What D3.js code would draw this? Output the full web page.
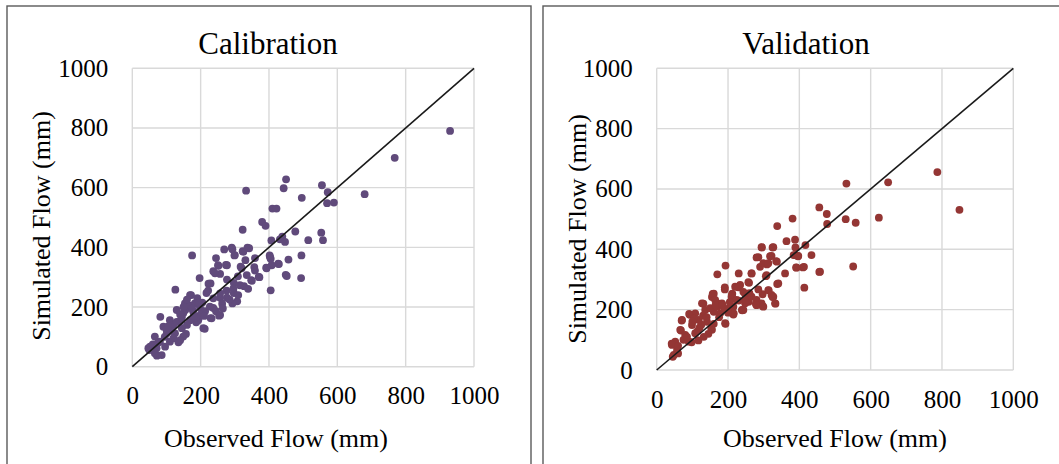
<!DOCTYPE html>
<html>
<head>
<meta charset="utf-8">
<script src="https://cdn.jsdelivr.net/npm/d3@7"></script>
<style>
  html, body { margin: 0; padding: 0; background: #ffffff; }
  svg { display: block; }
  text { font-family: "Liberation Serif", "Times New Roman", serif; fill: #000; }
</style>
</head>
<body>
<svg id="chart" width="1059" height="464"></svg>
<script>
// ---------------- DATA ----------------
const axisTicks = [0, 200, 400, 600, 800, 1000];
const tickLabels = ["0", "200", "400", "600", "800", "1000"];
const panelTitles = ["Calibration", "Validation"];
const xAxisTitle = "Observed Flow (mm)";
const yAxisTitle = "Simulated Flow (mm)";

const calibObserved = [930,768,680,555,572,570,590,450,443,496,333,410,422,380,390,323,477,553,558,515,407,439,447,432,337,323,269,291,299,245,175,359,331,402,405,495,457,427,408,392,357,277,251,317,370,348,327,339,405,449,494,197,237,257,277,297,309,223,126,169,217,257,277,297,307,293,263,237,254,229,212,187,157,135,82,47,72,229,242,172,222,237,276,154,183,130,149,164,178,198,213,227,245,257,110,138,169,193,208,232,91,120,145,101,125,149,66,81,110,140,52,71,96,86,66,50,293,300,325,342,252,274,403,429,359,393,320,335,372,350,452,315,296,257,285,265,200,185,160,115,95,130,155,205,190,310,145,120,75,100,170,160,180,195,140,210,175,150,105,60];
const calibSimulated = [790,700,578,608,585,548,550,628,598,566,590,530,530,485,472,459,453,449,424,424,423,436,418,427,399,387,393,399,373,364,373,364,357,373,362,373,359,345,340,332,334,340,340,335,301,290,270,261,256,308,297,297,320,311,292,281,303,278,258,240,247,231,231,247,219,212,211,197,171,163,127,149,110,82,167,62,37,279,313,240,255,229,255,212,212,190,179,200,186,198,186,201,186,173,156,151,156,156,129,162,134,140,129,112,112,101,101,84,84,89,67,62,67,39,45,56,394,374,385,397,338,341,368,344,322,330,330,307,300,288,304,273,262,246,225,195,175,165,140,120,100,150,190,215,230,240,165,95,80,125,205,225,170,215,175,170,195,200,135,75];

const validObserved = [787,849,649,532,623,530,558,456,477,478,551,456,414,381,338,364,388,417,389,434,396,384,391,410,360,338,335,325,318,295,280,290,309,306,266,230,193,170,259,230,212,191,160,155,314,325,333,297,278,297,240,215,193,174,131,93,70,68,42,45,60,117,98,153,160,191,157,164,220,234,211,248,258,127,136,108,183,202,216,178,160,239,248,91,71,118,141,99,192,66,80,108,132,155,90,52,43,57,48,294,327,285,322,299,313,337,388,397,392,413,458,266,308,341,257,229,243,285,313,322,327,210,224,248,266,280,294,280,299,332,243,215,120,105,145,175,200,230,260,75,85,130,150,170,190,115,140,165,185,100,125,205,60];
const validSimulated = [656,531,622,618,505,500,488,539,517,484,343,325,273,502,477,427,432,414,406,381,377,381,340,340,320,285,361,406,377,406,373,342,350,311,320,320,346,317,289,275,253,267,253,242,264,242,220,212,220,251,198,184,153,220,220,183,164,131,87,44,55,98,92,137,153,274,252,232,276,282,249,252,226,221,199,188,221,204,188,188,193,199,221,186,166,166,160,149,155,133,116,122,110,133,94,94,83,66,50,407,407,374,378,354,354,359,381,378,339,342,326,320,314,287,291,274,259,267,265,249,243,243,232,232,243,232,221,215,210,221,199,210,140,170,120,175,190,230,255,100,110,180,205,210,200,130,175,215,215,160,150,225,80];

// ---------------- LAYOUT ----------------
const panels = [
  { title: panelTitles[0], xs: calibObserved, ys: calibSimulated, color: "#604A7B",
    x0: 132.3, x1: 474, y0: 366.7, y1: 68.3,
    frame: [7, 6, 524, 470], titleX: 268, xTitleX: 276, yTitleX: 50, yTitleY: 226 },
  { title: panelTitles[1], xs: validObserved, ys: validSimulated, color: "#943634",
    x0: 656.7, x1: 1013.3, y0: 370, y1: 68.3,
    frame: [543, 6, 530, 470], titleX: 806, xTitleX: 835, yTitleX: 586, yTitleY: 229 }
];

const svg = d3.select("#chart");

panels.forEach(p => {
  const g = svg.append("g");
  const x = d3.scaleLinear().domain([0, 1000]).range([p.x0, p.x1]);
  const y = d3.scaleLinear().domain([0, 1000]).range([p.y0, p.y1]);

  // frame
  g.append("rect")
    .attr("x", p.frame[0]).attr("y", p.frame[1])
    .attr("width", p.frame[2]).attr("height", p.frame[3])
    .attr("fill", "none").attr("stroke", "#5a5a5a").attr("stroke-width", 1.4);

  // gridlines
  g.selectAll(".vg").data(axisTicks).enter().append("line")
    .attr("x1", d => x(d)).attr("x2", d => x(d))
    .attr("y1", y(0)).attr("y2", y(1000))
    .attr("stroke", "#d9d9d9").attr("stroke-width", 1.4);
  g.selectAll(".hg").data(axisTicks).enter().append("line")
    .attr("y1", d => y(d)).attr("y2", d => y(d))
    .attr("x1", x(0)).attr("x2", x(1000))
    .attr("stroke", "#d9d9d9").attr("stroke-width", 1.4);

  // axes (labels only)
  const xAxis = d3.axisBottom(x).tickValues(axisTicks)
    .tickFormat((d, i) => tickLabels[i]).tickSize(0).tickPadding(20);
  const gx = g.append("g").attr("transform", `translate(0,${p.y0})`).call(xAxis);
  gx.select(".domain").remove();
  gx.selectAll("text").attr("font-size", 25).attr("font-family", "Liberation Serif, Times New Roman, serif").attr("fill", "#000");

  const yAxis = d3.axisLeft(y).tickValues(axisTicks)
    .tickFormat((d, i) => tickLabels[i]).tickSize(0).tickPadding(24);
  const gy = g.append("g").attr("transform", `translate(${p.x0},0)`).call(yAxis);
  gy.select(".domain").remove();
  gy.selectAll("text").attr("font-size", 25).attr("font-family", "Liberation Serif, Times New Roman, serif").attr("fill", "#000");

  // points
  const pts = p.xs.map((v, i) => [v, p.ys[i]]);
  g.selectAll(".pt").data(pts).enter().append("circle")
    .attr("cx", d => x(d[0])).attr("cy", d => y(d[1]))
    .attr("r", 3.9).attr("fill", p.color);

  // 1:1 line
  g.append("line")
    .attr("x1", x(0)).attr("y1", y(0)).attr("x2", x(1000)).attr("y2", y(1000))
    .attr("stroke", "#1a1a1a").attr("stroke-width", 1.6);

  // titles
  g.append("text").attr("x", p.titleX).attr("y", 54)
    .attr("text-anchor", "middle").attr("font-size", 31).text(p.title);
  g.append("text").attr("x", p.xTitleX).attr("y", 447)
    .attr("text-anchor", "middle").attr("font-size", 26).text(xAxisTitle);
  g.append("text")
    .attr("transform", `translate(${p.yTitleX},${p.yTitleY}) rotate(-90)`)
    .attr("text-anchor", "middle").attr("font-size", 26).text(yAxisTitle);
});
</script>
</body>
</html>
